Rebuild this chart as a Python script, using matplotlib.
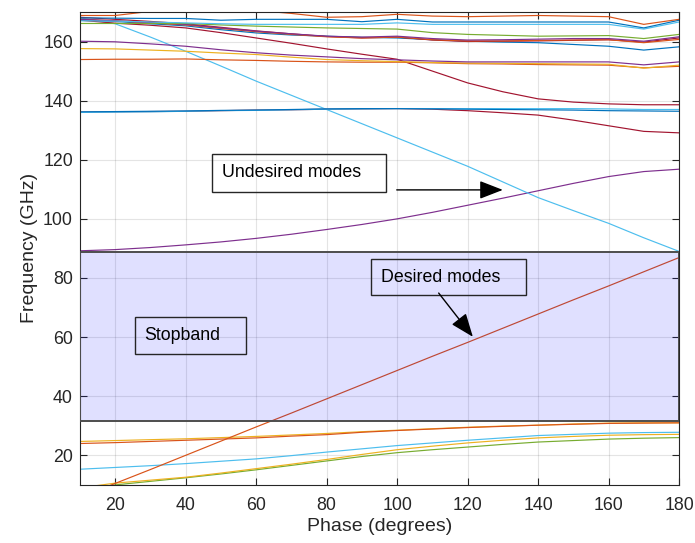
import matplotlib.pyplot as plt
from matplotlib.patches import Rectangle

plt.rcParams["font.family"] = ["Liberation Sans", "DejaVu Sans"]

# ----------
# data
# ----------
phase = [10, 20, 30, 40, 50, 60, 70, 80, 90, 100, 110, 120, 130, 140, 150, 160, 170, 180]

desired = [5.7, 10.5, 15.2, 20.0, 24.8, 29.6, 34.3, 39.1, 43.9, 48.7, 53.5, 58.2, 63.0, 67.8, 72.6, 77.3, 82.1, 86.9]

low_yellow = [9.0, 10.6, 11.6, 12.6, 14.0, 15.5, 17.0, 18.6, 20.3, 21.9, 23.1, 24.2, 25.1, 25.9, 26.4, 26.8, 27.0, 27.1]
low_green = [8.6, 10.0, 11.2, 12.4, 13.7, 15.1, 16.6, 18.1, 19.6, 20.9, 21.9, 22.8, 23.7, 24.5, 25.0, 25.5, 25.8, 26.0]
low_cyan = [15.3, 15.9, 16.5, 17.2, 18.0, 18.8, 19.9, 21.1, 22.2, 23.3, 24.2, 25.1, 25.9, 26.7, 27.1, 27.5, 27.7, 27.8]
edge_yellow = [24.7, 25.0, 25.3, 25.6, 26.0, 26.4, 26.9, 27.4, 28.0, 28.5, 29.0, 29.5, 29.9, 30.2, 30.6, 30.9, 31.0, 31.0]
edge_orange = [24.0, 24.3, 24.7, 25.1, 25.5, 25.9, 26.5, 27.0, 27.8, 28.4, 28.9, 29.4, 29.8, 30.2, 30.5, 30.8, 30.9, 31.0]

rise_purple = [89.2, 89.6, 90.3, 91.2, 92.2, 93.4, 94.8, 96.4, 98.1, 100.0, 102.2, 104.6, 107.0, 109.5, 112.0, 114.3, 116.0, 116.8]
fall_cyan = [168.0, 166.0, 161.5, 156.7, 151.7, 146.6, 141.8, 137.0, 132.2, 127.4, 122.6, 117.8, 112.5, 107.2, 102.8, 98.5, 93.6, 89.0]

mid_blue = [136.2, 136.3, 136.4, 136.5, 136.7, 136.8, 137.0, 137.2, 137.3, 137.3, 137.2, 137.1, 137.0, 136.9, 136.8, 136.6, 136.5, 136.4]
mid_cyan = [136.0, 136.1, 136.2, 136.4, 136.6, 136.7, 136.9, 137.1, 137.2, 137.3, 137.3, 137.3, 137.3, 137.3, 137.3, 137.2, 137.0, 137.0]
mid_darkred = [136.1, 136.2, 136.3, 136.4, 136.6, 136.8, 136.9, 137.1, 137.2, 137.3, 137.1, 136.6, 135.9, 135.1, 133.4, 131.5, 129.6, 129.1]

top_darkred = [167.2, 166.2, 165.5, 164.6, 163.0, 161.2, 159.4, 157.5, 155.7, 154.0, 150.0, 146.0, 143.0, 140.6, 139.5, 138.9, 138.6, 138.6]
band_purple = [160.1, 159.9, 159.2, 158.4, 157.2, 156.2, 155.4, 154.8, 154.2, 153.8, 153.4, 153.1, 153.1, 153.1, 153.1, 153.1, 152.1, 153.1]
band_yellow = [157.6, 157.5, 157.1, 156.7, 156.1, 155.6, 154.7, 153.9, 153.5, 153.2, 152.9, 152.7, 152.6, 152.5, 152.4, 152.3, 151.0, 152.0]
band_orange = [153.9, 154.0, 154.0, 154.1, 153.8, 153.6, 153.3, 153.1, 153.0, 153.0, 152.8, 152.5, 152.4, 152.2, 152.1, 152.0, 151.1, 151.6]

top_orange = [168.8, 168.8, 170.2, 170.8, 171.0, 170.5, 169.5, 168.2, 168.4, 169.2, 168.6, 168.4, 168.6, 168.8, 168.6, 168.4, 165.8, 167.5]
top_blue = [168.0, 167.9, 167.8, 167.8, 167.2, 167.5, 167.5, 167.5, 166.7, 167.5, 166.6, 166.6, 166.6, 166.6, 166.6, 166.6, 164.6, 167.2]
top_cyan = [167.0, 166.9, 166.6, 166.3, 166.0, 165.8, 165.8, 165.8, 165.8, 166.3, 165.8, 165.8, 165.8, 165.8, 165.8, 165.8, 164.2, 166.6]
top_green = [166.1, 166.1, 166.1, 166.1, 165.6, 165.2, 164.9, 164.6, 164.4, 164.2, 163.0, 162.4, 162.1, 161.8, 161.9, 162.0, 161.0, 162.4]
top_purple = [167.5, 167.0, 166.4, 165.8, 164.6, 163.5, 162.6, 161.8, 161.5, 161.8, 161.0, 160.5, 160.6, 160.8, 161.0, 161.0, 160.1, 161.6]
top_orange2 = [167.6, 167.0, 166.3, 165.6, 164.4, 163.3, 162.4, 161.6, 161.2, 161.5, 160.6, 160.2, 160.2, 160.4, 160.5, 160.6, 159.6, 160.7]
top_darkred2 = [168.2, 167.5, 166.8, 166.0, 164.8, 163.6, 162.6, 161.7, 161.2, 161.5, 160.5, 160.0, 160.1, 160.2, 160.4, 160.6, 159.8, 161.2]
top_blue2 = [167.4, 166.8, 166.0, 165.3, 164.0, 162.9, 162.2, 161.8, 161.4, 161.2, 160.6, 160.1, 159.8, 159.6, 159.0, 158.4, 157.1, 158.2]

stop_low = 31.5
stop_high = 88.8

# MATLAB default colour order
c_blue = "#0072BD"
c_orange = "#D95319"
c_yellow = "#EDB120"
c_purple = "#7E2F8E"
c_green = "#77AC30"
c_cyan = "#4DBEEE"
c_darkred = "#A2142F"

modes = [
    (low_green, c_green), (low_yellow, c_yellow), (low_cyan, c_cyan),
    (edge_yellow, c_yellow), (edge_orange, c_orange),
    (rise_purple, c_purple), (fall_cyan, c_cyan),
    (mid_darkred, c_darkred), (mid_cyan, c_cyan), (mid_blue, c_blue),
    (top_darkred, c_darkred), (band_orange, c_orange), (band_yellow, c_yellow), (band_purple, c_purple),
    (top_blue2, c_blue), (top_darkred2, c_darkred), (top_orange2, c_orange), (top_purple, c_purple),
    (top_green, c_green), (top_cyan, c_cyan), (top_blue, c_blue), (top_orange, c_orange),
    (desired, c_orange),
]

# ----------
# plotting
# ----------
fig = plt.figure(figsize=(6.95, 5.43), dpi=100)
ax = fig.add_axes([0.115, 0.107, 0.862, 0.871])

for vals, col in modes:
    ax.plot(phase, vals, color=col, lw=0.85)

# stopband patch sits above the curves, like the MATLAB patch with FaceAlpha
ax.axhspan(stop_low, stop_high, facecolor=(0, 0, 1, 0.12), edgecolor=(0.3, 0.3, 0.3), lw=1.4, zorder=3)

ax.set_xlim(10, 180)
ax.set_ylim(10, 170)
ax.set_xticks(range(20, 181, 20))
ax.set_yticks(range(20, 161, 20))
ax.grid(True, color="#262626", alpha=0.12, lw=0.8)
ax.tick_params(direction="in", top=True, right=True, labelsize=12.8, colors="#262626", length=5)
ax.tick_params(axis="x", pad=9)
ax.tick_params(axis="y", pad=5)
for sp in ax.spines.values():
    sp.set_color("#262626")
    sp.set_linewidth(0.8)
ax.set_xlabel("Phase (degrees)", fontsize=14, color="#262626")
ax.set_ylabel("Frequency (GHz)", fontsize=14, color="#262626")
ax.xaxis.set_label_coords(0.5, -0.07)
ax.yaxis.set_label_coords(-0.07, 0.5)

# text boxes
box_kw = dict(fill=False, edgecolor="#262626", lw=1.0, zorder=5)
ax.add_patch(Rectangle((47.4, 109.2), 49.4, 12.8, **box_kw))
ax.text(50.3, 115.6, "Undesired modes", fontsize=12.8, va="center", zorder=6)
ax.add_patch(Rectangle((92.6, 74.1), 43.9, 12.4, **box_kw))
ax.text(95.4, 80.3, "Desired modes", fontsize=12.8, va="center", zorder=6)
ax.add_patch(Rectangle((25.6, 54.3), 31.6, 12.6, **box_kw))
ax.text(28.3, 60.6, "Stopband", fontsize=12.8, va="center", zorder=6)

arrow_kw = dict(arrowstyle="-|>,head_length=0.9,head_width=0.35", color="black", lw=1.0,
                mutation_scale=16, shrinkA=0, shrinkB=0)
ax.annotate("", xy=(130.0, 109.8), xytext=(99.9, 109.8), arrowprops=arrow_kw, zorder=6)
ax.annotate("", xy=(121.5, 60.1), xytext=(111.8, 74.9), arrowprops=arrow_kw, zorder=6)

plt.savefig("out.png", dpi=100)
plt.close()
